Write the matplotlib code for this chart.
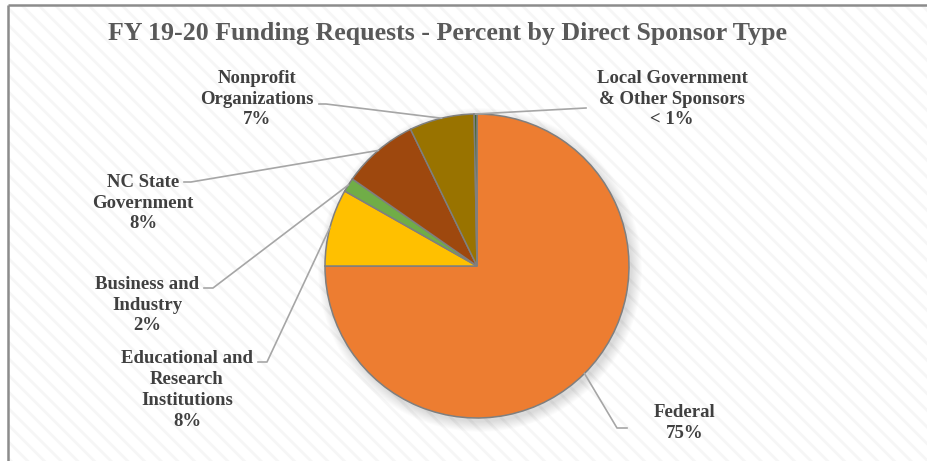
import numpy as np
from matplotlib import pyplot as plt
from matplotlib.patches import Rectangle, Circle

''' --------------------------- data ----------------------------------'''
sponsors = ['Federal', 'Educational and\nResearch\nInstitutions', 'Business and\nIndustry',
            'NC State\nGovernment', 'Nonprofit\nOrganizations', 'Local Government\n& Other Sponsors']
percent = [75.0, 8.2, 1.5, 8.1, 6.9, 0.3]
colors = ['#ED7D31', '#FFC000', '#70AD47', '#9E480E', '#997300', '#43682B']
title = 'FY 19-20 Funding Requests - Percent by Direct Sponsor Type'

''' --------------------------- layout (pixels, y from top) ----------------------------------'''
W, H = 928, 461
cx, cy, r = 477, 266, 152
label_pos = [(685, 423), (187, 390), (147, 305), (143, 203), (257, 99), (672, 99)]
leader_start = [[(627, 428), (617, 428)], [(258, 362), (267, 362)], [(204, 288), (213, 288)],
                [(184, 182), (191, 182)], [(319, 104), (326, 104)], [(586, 108)]]

def py(y):
    return H - y

plt.rcParams['hatch.linewidth'] = 2.0
fig = plt.figure(figsize=(W / 100, H / 100), dpi=100)
ax = fig.add_axes([0, 0, 1, 1])

# background with faint diagonal stripes and the chart border
ax.add_patch(Rectangle((8, -20), W + 20, py(5) + 20, facecolor='white', edgecolor='#f6f6f6',
                       hatch='\\\\', lw=0, zorder=0))
ax.plot([8, 8], [py(5), -20], color='#8c8c8c', lw=1.8, zorder=1, solid_capstyle='butt')
ax.plot([8, W + 20], [py(5), py(5)], color='#8c8c8c', lw=1.8, zorder=1, solid_capstyle='butt')

# soft shadow
for k in range(12):
    ax.add_patch(Circle((cx + 3, py(cy) - 4), r + k * 0.9, facecolor='black', alpha=0.012,
                        lw=0, zorder=1))

wedges, _ = ax.pie(percent, colors=colors, startangle=90, counterclock=False,
                   center=(cx, py(cy)), radius=r,
                   wedgeprops=dict(edgecolor='#7f7f7f', linewidth=1.1))
for w in wedges:
    w.set_zorder(2)

ax.set_xlim(0, W)
ax.set_ylim(0, H)
ax.set_aspect('equal')
ax.axis('off')

fnt = dict(family='Liberation Serif', weight='bold', color='#404040')
ax.text(448, py(33), title, ha='center', va='center', fontsize=18.6, color='#595959',
        family='Liberation Serif', weight='bold')

for i, w in enumerate(wedges):
    a = np.deg2rad((w.theta1 + w.theta2) / 2)
    ex, ey = cx + r * np.cos(a), py(cy) + r * np.sin(a)
    pts = [(x, py(y)) for x, y in leader_start[i]] + [(ex, ey)]
    ax.plot([p[0] for p in pts], [p[1] for p in pts], color='#a6a6a6', lw=1.2, zorder=3)
    pct = '< 1%' if percent[i] < 1 else '%d%%' % round(percent[i])
    lx, ly = label_pos[i]
    ax.text(lx, py(ly), sponsors[i] + '\n' + pct, ha='center', va='center',
            multialignment='center', fontsize=13.5, linespacing=1.3, **fnt)

plt.savefig('out.png', dpi=100)
